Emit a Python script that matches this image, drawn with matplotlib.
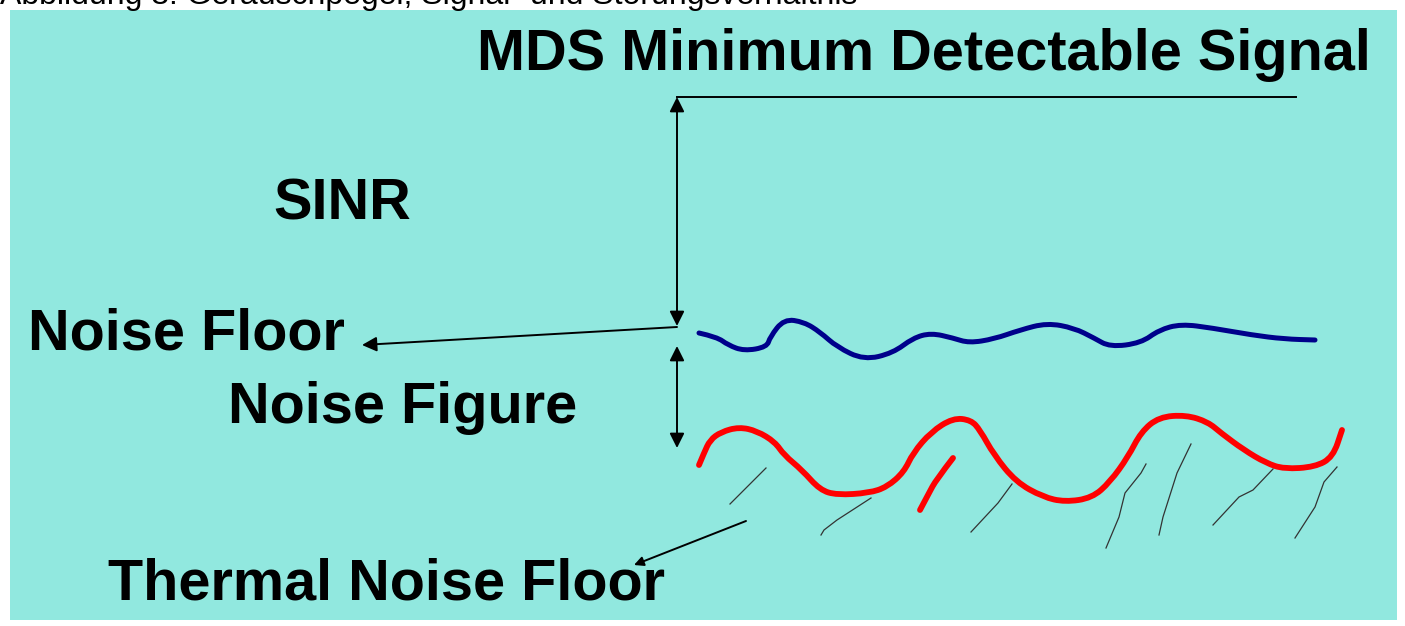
import matplotlib
matplotlib.use('Agg')
import matplotlib.pyplot as plt
from matplotlib.patches import Rectangle, PathPatch
from matplotlib.path import Path

# Diagram drawn in pixel coordinates of the original picture (y grows downward)
W, H = 1405, 626

teal = '#91e8df'
navy = '#00008b'
red = '#ff0000'

caption = 'Abbildung 3: Geräuschpegel, Signal- und Störungsverhältnis'

labels = ['MDS Minimum Detectable Signal', 'SINR', 'Noise Floor',
          'Noise Figure', 'Thermal Noise Floor']
label_x = [477, 273, 28, 228, 108]
label_y = [70, 220, 350, 423, 600]

# blue noise floor curve
blue_x = [699, 717, 728, 744, 767, 770, 784, 804, 820, 837, 864, 893, 913, 931,
          953, 969, 994, 1020, 1047, 1074, 1094, 1110, 1141, 1159, 1181, 1212,
          1252, 1284, 1315]
blue_y = [333, 337, 345, 351, 347, 337, 319, 322, 332, 347, 360, 353, 338, 333,
          338, 343, 339, 330, 323, 328, 338, 347, 343, 330, 324, 328,
          335, 339, 340]

# red thermal curve
red_x = [699, 704, 710, 721, 739, 757, 775, 784, 802, 820, 837, 869, 887, 904,
         913, 931, 953, 971, 980, 994, 1016, 1043, 1065, 1092, 1110, 1128, 1141,
         1159, 1186, 1208, 1221, 1244, 1266, 1284, 1315, 1333, 1342]
red_y = [465, 453, 440, 432, 427, 431, 442, 455, 470, 490, 495, 493, 487, 472,
         453, 432, 418, 420, 430, 455, 482, 497, 502, 498, 482, 457, 432,
         417, 415, 422, 433, 450, 463, 469, 467, 457, 430]

# short red stroke
red2_x = [953, 936, 929, 920]
red2_y = [458, 480, 493, 510]

# thin hatch strokes under the red curve
hatch = [
    ([766, 730], [468, 504]),
    ([871, 837, 824, 821], [498, 520, 530, 535]),
    ([1012, 998, 971], [484, 503, 532]),
    ([1146, 1141, 1125, 1119, 1106], [464, 473, 493, 517, 548]),
    ([1191, 1177, 1163, 1159], [444, 473, 517, 535]),
    ([1273, 1253, 1239, 1213], [469, 490, 497, 525]),
    ([1337, 1324, 1315, 1295], [467, 482, 507, 538]),
]


def smooth_path(xs, ys):
    # quadratic bezier through the midpoints, the points act as controls
    pts = list(zip(xs, ys))
    verts = [pts[0]]
    codes = [Path.MOVETO]
    for i in range(1, len(pts) - 1):
        mid = ((pts[i][0] + pts[i + 1][0]) / 2, (pts[i][1] + pts[i + 1][1]) / 2)
        verts += [pts[i], mid]
        codes += [Path.CURVE3, Path.CURVE3]
    verts.append(pts[-1])
    codes.append(Path.LINETO)
    return Path(verts, codes)


fig = plt.figure(figsize=(W / 100, H / 100), dpi=100)
ax = fig.add_axes([0, 0, 1, 1])
ax.set_xlim(0, W)
ax.set_ylim(H, 0)
ax.axis('off')

ax.add_patch(Rectangle((10, 10), 1387, 610, facecolor=teal, edgecolor='none'))

ax.text(0, 4, caption, fontsize=23, family='Liberation Sans', va='baseline',
        ha='left', color='black')

for t, x, y in zip(labels, label_x, label_y):
    ax.text(x, y, t, fontsize=41.5, family='Liberation Sans', weight='bold',
            va='baseline', ha='left', color='black')

# curves
ax.add_patch(PathPatch(smooth_path(blue_x, blue_y), facecolor='none',
                       edgecolor=navy, lw=3.6, joinstyle='round', capstyle='round'))
ax.add_patch(PathPatch(smooth_path(red_x, red_y), facecolor='none',
                       edgecolor=red, lw=4.2, joinstyle='round', capstyle='round'))
ax.add_patch(PathPatch(smooth_path(red2_x, red2_y), facecolor='none',
                       edgecolor=red, lw=4.2, capstyle='round'))
for xs, ys in hatch:
    ax.plot(xs, ys, color='#333333', lw=0.9)

# MDS level line and arrows
ax.plot([677, 1296], [97, 97], color='black', lw=1.4)
dbl = dict(arrowstyle='<|-|>', color='black', lw=1.4, mutation_scale=22,
           shrinkA=0, shrinkB=0)
one = dict(arrowstyle='-|>', color='black', lw=1.4, mutation_scale=22,
           shrinkA=0, shrinkB=0)
ax.annotate('', xy=(677, 97), xytext=(677, 326), arrowprops=dbl)
ax.annotate('', xy=(677, 346), xytext=(677, 448), arrowprops=dbl)
ax.annotate('', xy=(362, 345), xytext=(677, 327), arrowprops=one)
ax.annotate('', xy=(634, 565), xytext=(746, 521),
            arrowprops=dict(one, mutation_scale=14))

fig.savefig('out.png', dpi=100, facecolor='white')
